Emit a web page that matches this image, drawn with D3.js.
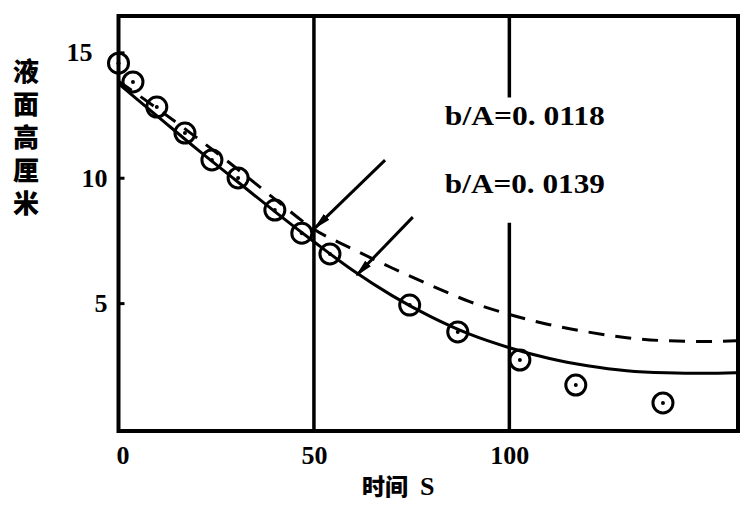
<!DOCTYPE html>
<html>
<head>
<meta charset="utf-8">
<script src="https://cdn.jsdelivr.net/npm/d3@7"></script>
<style>
body{margin:0;background:#fff;}
</style>
</head>
<body>
<div class="canvas"></div>
<script>
// measured points: time (s) vs liquid level (cm)
const timeS=[0,3.7,9.8,17,23.9,30.6,40,46.9,54.1,74.5,86.8,102.7,117,139.3];
const levelCm=[14.57,13.82,12.82,11.78,10.71,9.99,8.71,7.79,6.96,4.92,3.85,2.73,1.73,1.02];
// calculated curves
const curveT=[0,10,20,30,40,50,60,70,80,90,100,110,120,130,140,150,158];
const solidCurve=[13.75,12.45,11.15,9.9,8.65,7.45,6.3,5.3,4.45,3.75,3.22,2.8,2.5,2.3,2.22,2.2,2.22];
const dashedCurve=[13.85,12.75,11.6,10.4,9.15,7.95,7.15,6.4,5.7,5.05,4.55,4.15,3.85,3.62,3.5,3.47,3.5];
const xTicks=[0,50,100];
const yTicks=[5,10,15];
const yTitle='液面高厘米';
const xTitle='时间 S';
const noteText=['b/A=0. 0118','b/A=0. 0139'];
const noteAt=[[83.5,12.1],[83.5,9.39]];
// arrows [from, to] in data units
const arrows=[[[68.2,10.7],[50.3,8.0]],[[75.3,8.43],[61,6.12]]];

const svg=d3.select('.canvas')
  .append('svg')
    .attr('width',756)
    .attr('height',512);

const x=d3.scaleLinear().domain([0,158.5]).range([118.5,738]);
const y=d3.scaleLinear().domain([-0.1,16.45]).range([431,16]);

const serif="'Liberation Serif','Times New Roman',serif";
const cjk="'Noto Sans CJK SC','Noto Sans CJK JP',sans-serif";

svg.append('defs').append('marker')
    .attr('id','head')
    .attr('markerUnits','userSpaceOnUse')
    .attr('viewBox','0 -5 18 10')
    .attr('refX',16)
    .attr('refY',0)
    .attr('markerWidth',18)
    .attr('markerHeight',10)
    .attr('orient','auto')
  .append('path')
    .attr('d','M0,-4L18,0L0,4Z')
    .attr('fill','#000');

// vertical lines at 50 and 100 (100 is broken round the notes)
const vlines=[[50,-0.1,16.45],[100,-0.1,8.2],[100,13.2,16.45]];
svg.selectAll('line.v')
  .data(vlines)
  .enter().append('line')
    .attr('class','v')
    .attr('x1',d=>x(d[0])).attr('x2',d=>x(d[0]))
    .attr('y1',d=>y(d[1])).attr('y2',d=>y(d[2]))
    .attr('stroke','#000').attr('stroke-width',3.5);

// frame
svg.append('rect')
  .attr('x',x(0)).attr('y',y(16.45))
  .attr('width',x(158.5)-x(0))
  .attr('height',y(-0.1)-y(16.45))
  .attr('fill','none').attr('stroke','#000').attr('stroke-width',4);

// axes
const yAxis=d3.axisLeft(y).tickValues(yTicks).tickSizeInner(-6).tickSizeOuter(0).tickPadding(11);
const yg=svg.append('g').attr('transform',`translate(${x(0)},0)`).call(yAxis);
yg.select('.domain').remove();
yg.selectAll('line').attr('stroke','#000').attr('stroke-width',3);
yg.selectAll('text')
  .attr('font-family',serif).attr('font-weight','bold').attr('font-size',26).attr('fill','#000');
yg.selectAll('.tick').filter(d=>d===15).select('text').attr('dx',-15);

const xAxis=d3.axisBottom(x).tickValues(xTicks).tickSize(0).tickPadding(15);
const xg=svg.append('g').attr('transform',`translate(0,${y(-0.1)})`).call(xAxis);
xg.select('.domain').remove();
xg.selectAll('text')
  .attr('font-family',serif).attr('font-weight','bold').attr('font-size',26).attr('fill','#000');
xg.selectAll('.tick').filter(d=>d===0).select('text').attr('dx',4);

// curves
const line=d3.line().x(d=>x(d[0])).y(d=>y(d[1])).curve(d3.curveMonotoneX);
svg.append('path')
  .attr('d',line(curveT.map((t,i)=>[t,solidCurve[i]])))
  .attr('fill','none').attr('stroke','#000').attr('stroke-width',3);
svg.append('path')
  .attr('d',line(curveT.map((t,i)=>[t,dashedCurve[i]])))
  .attr('fill','none').attr('stroke','#000').attr('stroke-width',3)
  .attr('stroke-dasharray','16,11');

// points
const pts=timeS.map((t,i)=>({t:t,h:levelCm[i]}));
svg.selectAll('circle.pt')
  .data(pts)
  .enter().append('circle')
    .attr('class','pt')
    .attr('cx',d=>x(d.t)).attr('cy',d=>y(d.h))
    .attr('r',10)
    .attr('fill','none').attr('stroke','#000').attr('stroke-width',3);
svg.selectAll('circle.dot')
  .data(pts)
  .enter().append('circle')
    .attr('class','dot')
    .attr('cx',d=>x(d.t)).attr('cy',d=>y(d.h))
    .attr('r',2).attr('fill','#000');

// arrows
svg.selectAll('line.arrow')
  .data(arrows)
  .enter().append('line')
    .attr('class','arrow')
    .attr('x1',d=>x(d[0][0])).attr('y1',d=>y(d[0][1]))
    .attr('x2',d=>x(d[1][0])).attr('y2',d=>y(d[1][1]))
    .attr('stroke','#000').attr('stroke-width',3)
    .attr('marker-end','url(#head)');

// notes
svg.selectAll('text.note')
  .data(noteText)
  .enter().append('text')
    .attr('class','note')
    .attr('x',(d,i)=>x(noteAt[i][0]))
    .attr('y',(d,i)=>y(noteAt[i][1]))
    .attr('font-family',serif).attr('font-weight','bold').attr('font-size',28)
    .attr('textLength',160).attr('lengthAdjust','spacingAndGlyphs')
    .text(d=>d);

// axis titles
svg.append('text')
  .attr('x',26).attr('y',58)
  .attr('writing-mode','vertical-rl')
  .attr('font-family',cjk).attr('font-weight',900).attr('font-size',26)
  .attr('letter-spacing',7)
  .text(yTitle);

const xt=svg.append('text')
  .attr('x',362).attr('y',495)
  .attr('font-family',cjk).attr('font-weight',900).attr('font-size',23);
xt.append('tspan').text(xTitle.split(' ')[0]);
xt.append('tspan').attr('dx',12)
  .attr('font-family',serif).attr('font-size',26)
  .text(xTitle.split(' ')[1]);
</script>
</body>
</html>
